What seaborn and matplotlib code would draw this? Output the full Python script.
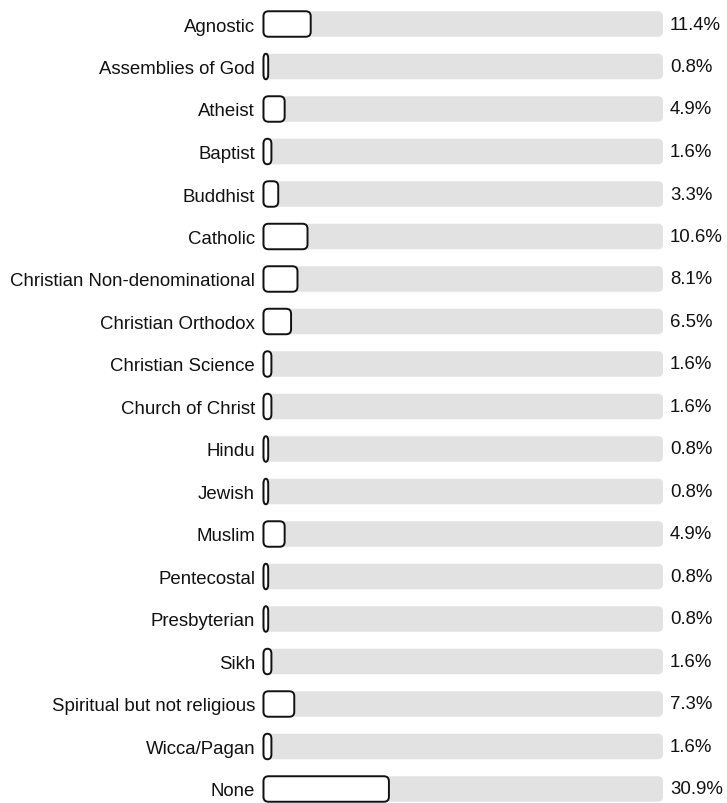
import numpy as np
import pandas as pd
import matplotlib
matplotlib.use("Agg")
import matplotlib.pyplot as plt
import seaborn as sns
from matplotlib.patches import FancyBboxPatch

# ---------------------------------
# Data
# ---------------------------------
religions = ["Agnostic", "Assemblies of God", "Atheist", "Baptist", "Buddhist",
             "Catholic", "Christian Non-denominational", "Christian Orthodox",
             "Christian Science", "Church of Christ", "Hindu", "Jewish", "Muslim",
             "Pentecostal", "Presbyterian", "Sikh", "Spiritual but not religious",
             "Wicca/Pagan", "None"]
percents = [11.4, 0.8, 4.9, 1.6, 3.3, 10.6, 8.1, 6.5, 1.6, 1.6,
            0.8, 0.8, 4.9, 0.8, 0.8, 1.6, 7.3, 1.6, 30.9]

df = pd.DataFrame({"religion": religions, "percent": percents})
df["track"] = 100.0

# ---------------------------------
# Figure
# ---------------------------------
sns.set_style("white")
plt.rcParams["font.family"] = ["Liberation Sans", "DejaVu Sans"]

W, H = 727, 804
fig = plt.figure(figsize=(W / 100, H / 100), dpi=100)
ax_left, ax_w = 262, 401
ax = fig.add_axes([ax_left / W, 0, ax_w / W, 1])

bar_h = 0.6
sns.barplot(data=df, x="track", y="religion", color="#e2e2e2", width=bar_h,
            orient="h", ax=ax, saturation=1)
n_track = len(ax.patches)
sns.barplot(data=df, x="percent", y="religion", color="white", width=bar_h,
            orient="h", ax=ax, saturation=1)

ax.set_xlim(0, 100)
y_top, y_bot = -25 / 42.5, (H - 25) / 42.5
ax.set_ylim(y_bot, y_top)

# rounded corners
px_x = ax_w / 100.0
px_y = H / (y_bot - y_top)
r_px = 5.0
for i, p in enumerate(list(ax.patches)):
    x, y = p.get_x(), p.get_y()
    w, h = p.get_width(), p.get_height()
    p.remove()
    is_track = i < n_track
    if not is_track:
        # small visual padding so tiny values still show as a capsule
        x += 1.5 / px_x
        w += 1.5 / px_x
    rx = min(r_px / px_x, w / 2)
    ry = r_px / px_y
    box = FancyBboxPatch((x, y), w, h,
                         boxstyle=f"round,pad=0,rounding_size={rx}",
                         mutation_aspect=ry / rx,
                         facecolor="#e2e2e2" if is_track else "white",
                         edgecolor="none" if is_track else "#111111",
                         linewidth=0 if is_track else 1.4,
                         zorder=1 if is_track else 2)
    ax.add_patch(box)

# labels
for i, v in enumerate(percents):
    ax.annotate(f"{v}%", xy=(100, i), xytext=(5, 0), textcoords="offset points",
                ha="left", va="center", fontsize=13.4, color="#111111",
                annotation_clip=False)

ax.set_xlabel("")
ax.set_ylabel("")
ax.set_xticks([])
ax.tick_params(axis="y", length=0, pad=5, labelsize=13.4, labelcolor="#111111")
for s in ax.spines.values():
    s.set_visible(False)

fig.savefig("out.png", dpi=100)
